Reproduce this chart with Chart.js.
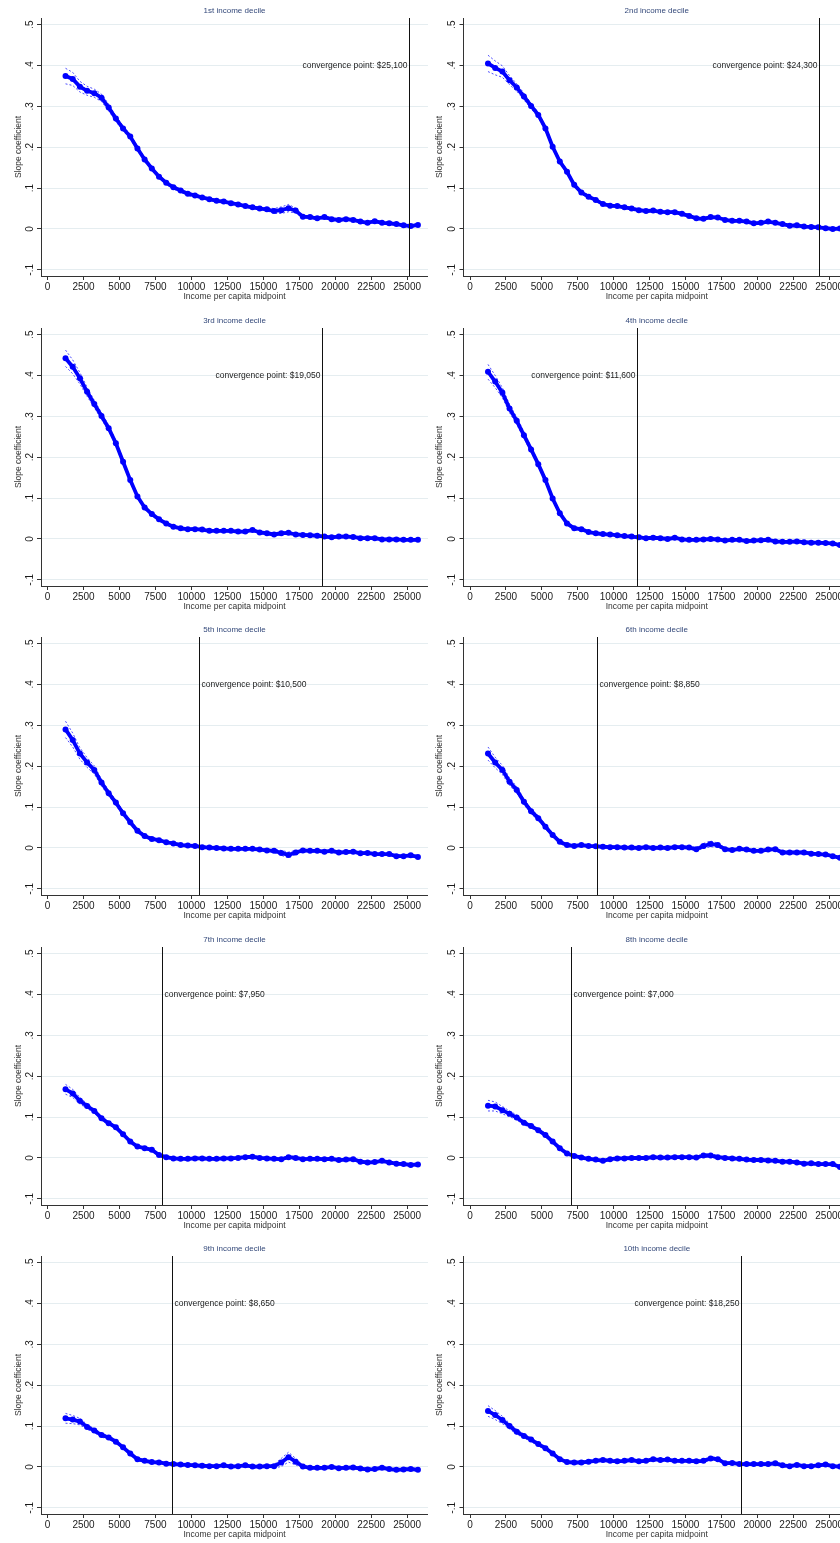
<!DOCTYPE html>
<html>
<head>
<meta charset="utf-8">
<script src="https://cdn.jsdelivr.net/npm/chart.js@4.4.1/dist/chart.umd.min.js"></script>
<style>
  html, body { margin: 0; padding: 0; background: #fff; }
  body { width: 840px; height: 1543px; position: relative; overflow: hidden; }
  canvas { position: absolute; }
</style>
</head>
<body>
<script>
const FONT = "'Liberation Sans', Arial, sans-serif";

// income per capita midpoints (x)
const incomeMid = [1250, 1750, 2250, 2750, 3250, 3750, 4250, 4750, 5250, 5750,
  6250, 6750, 7250, 7750, 8250, 8750, 9250, 9750, 10250, 10750,
  11250, 11750, 12250, 12750, 13250, 13750, 14250, 14750, 15250, 15750,
  16250, 16750, 17250, 17750, 18250, 18750, 19250, 19750, 20250, 20750,
  21250, 21750, 22250, 22750, 23250, 23750, 24250, 24750, 25250, 25750];

const decileTitles = ['1st income decile', '2nd income decile', '3rd income decile', '4th income decile',
  '5th income decile', '6th income decile', '7th income decile', '8th income decile',
  '9th income decile', '10th income decile'];

// slope coefficients, one array per decile
const slope1 = [0.374, 0.367, 0.348, 0.338, 0.332, 0.321, 0.297, 0.270, 0.246, 0.226,
  0.197, 0.170, 0.148, 0.128, 0.113, 0.102, 0.094, 0.086, 0.082, 0.077,
  0.073, 0.069, 0.067, 0.063, 0.060, 0.056, 0.053, 0.050, 0.048, 0.044,
  0.046, 0.051, 0.045, 0.030, 0.029, 0.026, 0.029, 0.024, 0.022, 0.024,
  0.022, 0.018, 0.015, 0.019, 0.015, 0.014, 0.012, 0.009, 0.007, 0.010];
const slope2 = [0.405, 0.394, 0.385, 0.364, 0.346, 0.324, 0.301, 0.279, 0.246, 0.201,
  0.165, 0.140, 0.108, 0.089, 0.079, 0.071, 0.061, 0.057, 0.056, 0.053,
  0.050, 0.046, 0.044, 0.045, 0.042, 0.041, 0.041, 0.037, 0.032, 0.026,
  0.025, 0.029, 0.028, 0.022, 0.020, 0.020, 0.018, 0.014, 0.015, 0.018,
  0.015, 0.012, 0.008, 0.009, 0.006, 0.005, 0.004, 0.002, 0.000, 0.001];
const slope3 = [0.442, 0.421, 0.393, 0.360, 0.330, 0.301, 0.271, 0.234, 0.189, 0.144,
  0.104, 0.077, 0.061, 0.048, 0.038, 0.030, 0.026, 0.024, 0.024, 0.023,
  0.020, 0.020, 0.020, 0.020, 0.018, 0.018, 0.022, 0.016, 0.014, 0.011,
  0.014, 0.015, 0.011, 0.010, 0.009, 0.008, 0.006, 0.004, 0.006, 0.006,
  0.005, 0.002, 0.002, 0.002, -0.001, -0.001, -0.001, -0.002, -0.002, -0.002];
const slope4 = [0.409, 0.385, 0.358, 0.319, 0.289, 0.254, 0.219, 0.183, 0.144, 0.099,
  0.063, 0.038, 0.026, 0.024, 0.017, 0.014, 0.012, 0.011, 0.009, 0.007,
  0.006, 0.004, 0.002, 0.003, 0.002, 0.000, 0.003, -0.001, -0.002, -0.002,
  -0.001, 0.000, -0.001, -0.004, -0.002, -0.002, -0.005, -0.004, -0.003, -0.002,
  -0.006, -0.007, -0.007, -0.006, -0.008, -0.009, -0.009, -0.010, -0.011, -0.015];
const slope5 = [0.290, 0.264, 0.231, 0.209, 0.191, 0.160, 0.134, 0.111, 0.085, 0.063,
  0.042, 0.029, 0.022, 0.019, 0.014, 0.011, 0.007, 0.006, 0.005, 0.002,
  0.001, 0.000, -0.001, -0.002, -0.002, -0.002, -0.002, -0.004, -0.006, -0.007,
  -0.012, -0.017, -0.011, -0.006, -0.007, -0.007, -0.009, -0.007, -0.011, -0.010,
  -0.009, -0.013, -0.012, -0.015, -0.015, -0.015, -0.020, -0.020, -0.018, -0.022];
const slope6 = [0.231, 0.209, 0.191, 0.162, 0.142, 0.113, 0.090, 0.073, 0.052, 0.032,
  0.015, 0.007, 0.005, 0.007, 0.005, 0.004, 0.003, 0.002, 0.002, 0.001,
  0.001, 0.000, 0.002, 0.000, 0.001, 0.000, 0.002, 0.002, 0.001, -0.003,
  0.005, 0.010, 0.007, -0.003, -0.005, -0.002, -0.004, -0.007, -0.007, -0.004,
  -0.003, -0.011, -0.011, -0.011, -0.011, -0.014, -0.015, -0.016, -0.020, -0.024];
const slope7 = [0.168, 0.158, 0.140, 0.127, 0.115, 0.097, 0.085, 0.075, 0.058, 0.040,
  0.028, 0.024, 0.020, 0.007, 0.002, -0.001, -0.002, -0.002, -0.001, -0.001,
  -0.002, -0.002, -0.001, -0.001, 0.000, 0.002, 0.003, 0.000, -0.001, -0.002,
  -0.003, 0.002, 0.000, -0.003, -0.002, -0.002, -0.003, -0.002, -0.005, -0.004,
  -0.003, -0.009, -0.011, -0.010, -0.007, -0.011, -0.014, -0.015, -0.017, -0.016];
const slope8 = [0.128, 0.126, 0.117, 0.108, 0.099, 0.086, 0.078, 0.068, 0.056, 0.040,
  0.024, 0.011, 0.005, 0.001, -0.002, -0.004, -0.007, -0.003, -0.001, -0.001,
  0.000, 0.000, 0.000, 0.002, 0.001, 0.001, 0.002, 0.002, 0.002, 0.001,
  0.006, 0.006, 0.002, 0.000, -0.001, -0.002, -0.004, -0.005, -0.005, -0.006,
  -0.007, -0.009, -0.009, -0.011, -0.014, -0.013, -0.015, -0.015, -0.015, -0.022];
const slope9 = [0.119, 0.116, 0.111, 0.098, 0.089, 0.078, 0.072, 0.062, 0.048, 0.033,
  0.019, 0.015, 0.012, 0.011, 0.008, 0.007, 0.006, 0.005, 0.004, 0.003,
  0.002, 0.002, 0.004, 0.001, 0.002, 0.004, 0.001, 0.001, 0.002, 0.002,
  0.011, 0.024, 0.013, 0.001, -0.002, -0.002, -0.002, 0.000, -0.003, -0.002,
  -0.001, -0.004, -0.006, -0.005, -0.002, -0.005, -0.007, -0.006, -0.005, -0.007];
const slope10 = [0.137, 0.127, 0.115, 0.100, 0.086, 0.076, 0.067, 0.056, 0.046, 0.033,
  0.019, 0.012, 0.011, 0.011, 0.013, 0.015, 0.017, 0.015, 0.014, 0.015,
  0.017, 0.014, 0.015, 0.019, 0.017, 0.018, 0.015, 0.015, 0.015, 0.014,
  0.015, 0.021, 0.019, 0.009, 0.010, 0.007, 0.007, 0.007, 0.007, 0.007,
  0.009, 0.004, 0.002, 0.005, 0.002, 0.002, 0.004, 0.006, 0.002, 0.001];

// half-width of the confidence band (dashed lines)
const ci1 = [0.019, 0.016, 0.013, 0.011, 0.010, 0.009, 0.008, 0.007, 0.006, 0.006,
  0.005, 0.005, 0.005, 0.004, 0.004, 0.004, 0.004, 0.004, 0.004, 0.003,
  0.003, 0.003, 0.003, 0.003, 0.003, 0.003, 0.003, 0.003, 0.004, 0.006,
  0.008, 0.009, 0.006, 0.003, 0.003, 0.003, 0.003, 0.003, 0.003, 0.003,
  0.003, 0.003, 0.003, 0.003, 0.003, 0.003, 0.003, 0.003, 0.003, 0.003];
const ci2 = [0.020, 0.017, 0.014, 0.011, 0.009, 0.008, 0.007, 0.006, 0.006, 0.005,
  0.005, 0.005, 0.004, 0.004, 0.004, 0.003, 0.003, 0.003, 0.003, 0.003,
  0.003, 0.003, 0.003, 0.003, 0.003, 0.003, 0.003, 0.003, 0.003, 0.003,
  0.003, 0.003, 0.003, 0.003, 0.003, 0.003, 0.003, 0.003, 0.003, 0.003,
  0.003, 0.003, 0.003, 0.003, 0.003, 0.003, 0.003, 0.003, 0.003, 0.003];
const ci3 = [0.020, 0.017, 0.014, 0.011, 0.009, 0.008, 0.007, 0.006, 0.006, 0.005,
  0.005, 0.004, 0.004, 0.004, 0.003, 0.003, 0.003, 0.003, 0.003, 0.003,
  0.003, 0.003, 0.003, 0.003, 0.003, 0.003, 0.003, 0.003, 0.003, 0.003,
  0.003, 0.003, 0.003, 0.003, 0.003, 0.003, 0.003, 0.003, 0.003, 0.003,
  0.003, 0.003, 0.003, 0.003, 0.003, 0.003, 0.003, 0.003, 0.003, 0.003];
const ci4 = [0.018, 0.015, 0.012, 0.010, 0.009, 0.008, 0.007, 0.006, 0.006, 0.005,
  0.005, 0.004, 0.004, 0.003, 0.003, 0.003, 0.003, 0.003, 0.003, 0.003,
  0.003, 0.003, 0.003, 0.003, 0.003, 0.003, 0.003, 0.003, 0.003, 0.003,
  0.003, 0.003, 0.003, 0.003, 0.003, 0.003, 0.003, 0.003, 0.003, 0.003,
  0.003, 0.003, 0.003, 0.003, 0.003, 0.003, 0.003, 0.003, 0.003, 0.003];
const ci5 = [0.020, 0.017, 0.014, 0.012, 0.010, 0.008, 0.007, 0.006, 0.006, 0.005,
  0.005, 0.004, 0.004, 0.003, 0.003, 0.003, 0.003, 0.003, 0.003, 0.003,
  0.003, 0.003, 0.003, 0.003, 0.003, 0.003, 0.003, 0.003, 0.003, 0.004,
  0.006, 0.007, 0.005, 0.003, 0.003, 0.003, 0.003, 0.003, 0.003, 0.003,
  0.003, 0.003, 0.003, 0.003, 0.003, 0.003, 0.003, 0.003, 0.003, 0.003];
const ci6 = [0.016, 0.013, 0.011, 0.009, 0.008, 0.007, 0.006, 0.006, 0.005, 0.005,
  0.004, 0.004, 0.003, 0.003, 0.003, 0.003, 0.003, 0.003, 0.003, 0.003,
  0.003, 0.003, 0.003, 0.003, 0.003, 0.003, 0.003, 0.003, 0.003, 0.004,
  0.006, 0.007, 0.005, 0.003, 0.003, 0.003, 0.003, 0.003, 0.003, 0.003,
  0.003, 0.003, 0.003, 0.003, 0.003, 0.003, 0.003, 0.003, 0.003, 0.003];
const ci7 = [0.012, 0.010, 0.008, 0.006, 0.005, 0.005, 0.004, 0.004, 0.004, 0.003,
  0.003, 0.003, 0.003, 0.003, 0.003, 0.003, 0.003, 0.003, 0.003, 0.003,
  0.003, 0.003, 0.003, 0.003, 0.003, 0.003, 0.003, 0.003, 0.003, 0.003,
  0.003, 0.004, 0.003, 0.003, 0.003, 0.003, 0.003, 0.003, 0.003, 0.003,
  0.003, 0.003, 0.003, 0.003, 0.003, 0.003, 0.003, 0.003, 0.003, 0.003];
const ci8 = [0.013, 0.011, 0.009, 0.007, 0.006, 0.005, 0.005, 0.004, 0.004, 0.003,
  0.003, 0.003, 0.003, 0.003, 0.003, 0.003, 0.003, 0.003, 0.003, 0.003,
  0.003, 0.003, 0.003, 0.003, 0.003, 0.003, 0.003, 0.003, 0.003, 0.003,
  0.004, 0.005, 0.004, 0.003, 0.003, 0.003, 0.003, 0.003, 0.003, 0.003,
  0.003, 0.003, 0.003, 0.003, 0.003, 0.003, 0.003, 0.003, 0.003, 0.003];
const ci9 = [0.012, 0.010, 0.008, 0.006, 0.005, 0.005, 0.004, 0.004, 0.004, 0.003,
  0.003, 0.003, 0.003, 0.003, 0.003, 0.003, 0.003, 0.003, 0.003, 0.003,
  0.003, 0.003, 0.003, 0.003, 0.003, 0.003, 0.003, 0.003, 0.003, 0.004,
  0.010, 0.012, 0.008, 0.003, 0.003, 0.003, 0.003, 0.003, 0.003, 0.003,
  0.003, 0.003, 0.003, 0.003, 0.003, 0.003, 0.003, 0.003, 0.003, 0.003];
const ci10 = [0.013, 0.011, 0.009, 0.007, 0.006, 0.005, 0.005, 0.004, 0.004, 0.003,
  0.003, 0.003, 0.003, 0.003, 0.003, 0.003, 0.003, 0.003, 0.003, 0.003,
  0.003, 0.003, 0.003, 0.003, 0.003, 0.003, 0.003, 0.003, 0.003, 0.003,
  0.003, 0.004, 0.004, 0.003, 0.003, 0.003, 0.003, 0.003, 0.003, 0.003,
  0.003, 0.003, 0.003, 0.003, 0.003, 0.003, 0.003, 0.003, 0.003, 0.003];

// convergence line positions (as drawn) and their labels
const convergenceAt = [25100, 24300, 19050, 11600, 10500, 8850, 7950, 7000, 8650, 18850];
const convergenceText = ['$25,100', '$24,300', '$19,050', '$11,600', '$10,500',
  '$8,850', '$7,950', '$7,000', '$8,650', '$18,250'];
const labelSide = ['left', 'left', 'left', 'left', 'right', 'right', 'right', 'right', 'right', 'left'];

const xTicks = [0, 2500, 5000, 7500, 10000, 12500, 15000, 17500, 20000, 22500, 25000];
const xTickLabels = ['0', '2500', '5000', '7500', '10000', '12500', '15000', '17500', '20000', '22500', '25000'];
const yTicks = [-0.1, 0, 0.1, 0.2, 0.3, 0.4, 0.5];
const yTickLabels = ['-.1', '0', '.1', '.2', '.3', '.4', '.5'];

const slopes = [slope1, slope2, slope3, slope4, slope5, slope6, slope7, slope8, slope9, slope10];
const bands = [ci1, ci2, ci3, ci4, ci5, ci6, ci7, ci8, ci9, ci10];
const rowTops = [0, 310, 619, 929, 1238];

const convergencePlugin = {
  id: 'convergence',
  afterDatasetsDraw(chart, args, opts) {
    const { ctx, chartArea, scales: { x, y } } = chart;
    const px = Math.round(x.getPixelForValue(opts.at)) + 0.5;
    ctx.save();
    ctx.strokeStyle = '#111';
    ctx.lineWidth = 1;
    ctx.beginPath();
    ctx.moveTo(px, chartArea.top);
    ctx.lineTo(px, chartArea.bottom);
    ctx.stroke();
    ctx.fillStyle = '#222';
    ctx.font = '8.5px ' + FONT;
    ctx.textBaseline = 'middle';
    const ty = y.getPixelForValue(0.4);
    const label = 'convergence point: ' + opts.text;
    if (opts.side === 'left') {
      ctx.textAlign = 'right';
      ctx.fillText(label, px - 2, ty);
    } else {
      ctx.textAlign = 'left';
      ctx.fillText(label, px + 2, ty);
    }
    ctx.restore();
  }
};

// stop the scales from reserving room for overhanging tick labels
const noPadding = s => {
  s.paddingLeft = 0;
  s.paddingRight = 0;
  s.paddingTop = 0;
  s.paddingBottom = 0;
};

slopes.forEach((vals, i) => {
  const col = i % 2;
  const row = Math.floor(i / 2);
  // each panel runs a little past the column edge, as in the source graph
  const w = col ? 430 : 428;
  const cv = document.createElement('canvas');
  cv.width = w;
  cv.height = 310;
  cv.style.left = (col * 420) + 'px';
  cv.style.top = rowTops[row] + 'px';
  cv.style.width = w + 'px';
  cv.style.height = '310px';
  document.body.appendChild(cv);

  const ci = bands[i];
  const mid = incomeMid.map((x, k) => ({ x, y: vals[k] }));
  const upper = incomeMid.map((x, k) => ({ x, y: vals[k] + ci[k] }));
  const lower = incomeMid.map((x, k) => ({ x, y: vals[k] - ci[k] }));
  const dashed = {
    borderColor: '#1f1fff', borderWidth: 0.8, borderDash: [2, 2],
    pointRadius: 0, tension: 0, fill: false, order: 2
  };

  new Chart(cv, {
    type: 'line',
    data: {
      datasets: [
        { data: mid, borderColor: '#0000ff', backgroundColor: '#0000ff', borderWidth: 3.8,
          pointRadius: 3, pointBorderWidth: 0, pointBackgroundColor: '#0000ff',
          tension: 0, fill: false, order: 0 },
        Object.assign({ data: upper }, dashed),
        Object.assign({ data: lower }, dashed)
      ]
    },
    options: {
      responsive: false,
      animation: false,
      devicePixelRatio: 1,
      events: [],
      layout: { padding: 0, autoPadding: false },
      plugins: {
        legend: { display: false },
        tooltip: { enabled: false },
        title: {
          display: true, text: decileTitles[i], color: '#34497a', fullSize: false,
          font: { family: FONT, size: 8, weight: 'normal' },
          padding: { top: 6.2, bottom: 2.2 }
        },
        convergence: { at: convergenceAt[i], text: convergenceText[i], side: labelSide[i] }
      },
      scales: {
        x: {
          type: 'linear', min: -455, max: 26450,
          afterBuildTicks: s => { s.ticks = xTicks.map(v => ({ value: v })); },
          afterFit: s => { s.height = 34; noPadding(s); },
          ticks: {
            autoSkip: false, maxRotation: 0, minRotation: 0, padding: 1, color: '#1a1a1a',
            font: { family: FONT, size: 10 },
            callback: (v, k) => xTickLabels[k]
          },
          grid: { drawOnChartArea: false, drawTicks: true, tickLength: 4, tickColor: '#333', tickWidth: 1 },
          border: { display: true, color: '#333', width: 1 },
          title: {
            display: true, text: 'Income per capita midpoint', color: '#333',
            font: { family: FONT, size: 8.5 }, padding: { top: 0, bottom: 8.5 }
          }
        },
        y: {
          min: -0.115, max: 0.516,
          afterBuildTicks: s => { s.ticks = yTicks.map(v => ({ value: v })); },
          afterFit: s => { s.width = col ? 43.5 : 41; noPadding(s); },
          ticks: {
            minRotation: 90, maxRotation: 90, crossAlign: 'center', padding: 1, color: '#1a1a1a',
            font: { family: FONT, size: 10 },
            callback: (v, k) => yTickLabels[k]
          },
          grid: { color: '#e5edf0', lineWidth: 1, drawTicks: true, tickLength: 4, tickColor: '#333', tickWidth: 1 },
          border: { display: true, color: '#333', width: 1 },
          title: {
            display: true, text: 'Slope coefficient', color: '#333',
            font: { family: FONT, size: 8.5 }, padding: { top: col ? 15 : 13.5, bottom: 0 }
          }
        }
      }
    },
    plugins: [convergencePlugin]
  });
});
</script>
</body>
</html>
